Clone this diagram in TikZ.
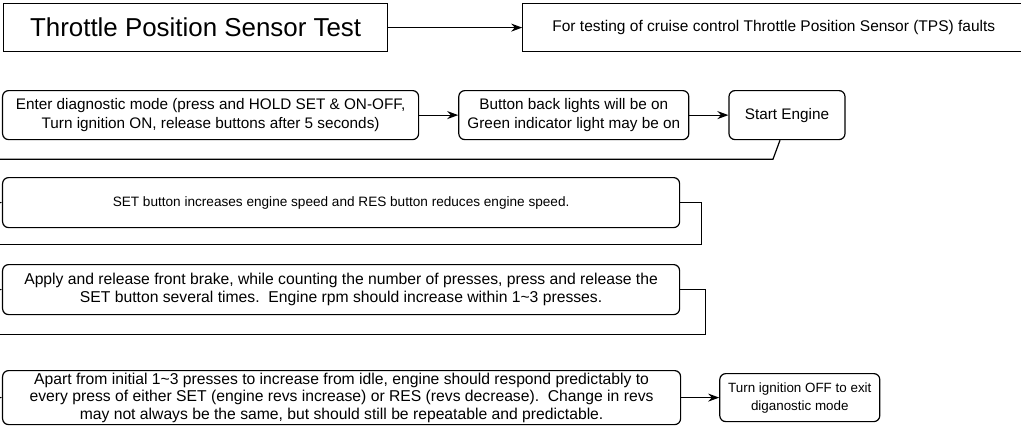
\documentclass[tikz,border=0pt]{standalone}
\usepackage{fontspec}
\setmainfont{Liberation Sans}
\usetikzlibrary{arrows.meta,positioning}
\tikzset{
  titlebox/.style={
    draw,
    line width=1.2pt,
    anchor=north west,
    minimum width=384pt,
    minimum height=48pt,
    inner sep=0pt,
    font=\fontsize{25.9}{30}\selectfont
  },
  notebox/.style={
    draw,
    line width=1.2pt,
    minimum height=49pt,
    inner sep=0pt,
    align=center,
    font=\fontsize{15.3}{19}\selectfont
  },
  stepbox/.style={
    notebox,
    rounded corners=6pt
  },
  longstep/.style={
    stepbox,
    anchor=north west,
    minimum width=677pt,
    font=\fontsize{15.7}{17.6}\selectfont
  },
  arrow/.style={-{Stealth[length=11pt,width=8pt]}, line width=1.2pt},
  feed/.style={-{Stealth[length=11pt,width=8pt]}, line width=1.2pt},
}

\begin{document}
\begin{tikzpicture}[x=1pt,y=-1pt]
\useasboundingbox (0,0) rectangle (1021,432);
\coordinate (leftrail) at (-20,0);

% Title row
\node[titlebox] (title) at (3,3) {Throttle Position Sensor Test};
\node[notebox, font=\fontsize{15.5}{19}\selectfont, minimum width=502pt, minimum height=48pt, right=134pt of title] (purpose) {For testing of cruise control Throttle Position Sensor (TPS) faults};
\draw[arrow] (title) -- (purpose);

% Entering diagnostic mode
\node[stepbox, anchor=north west, minimum width=416pt] (diag) at (2,90) {Enter diagnostic mode (press and HOLD SET \& ON-OFF,\\Turn ignition ON, release buttons after 5 seconds)};
\node[stepbox, minimum width=230pt, right=39pt of diag] (lights) {Button back lights will be on\\Green indicator light may be on};
\node[stepbox, minimum width=116pt, right=39pt of lights] (start) {Start Engine};
\draw[arrow] (diag) -- (lights);
\draw[arrow] (lights) -- (start);

% Button checks
\node[longstep, font=\fontsize{13.6}{17.5}\selectfont, minimum height=50pt] (setres) at (2,177) {SET button increases engine speed and RES button reduces engine speed.};
\node[longstep, minimum height=50pt] (presses) at (2,264) {Apply and release front brake, while counting the number of presses, press and release the\\SET button several times.\ \ Engine rpm should increase within 1\textasciitilde3 presses.};
\node[longstep, minimum width=678pt, minimum height=54pt] (respond) at (2,370) {Apart from initial 1\textasciitilde3 presses to increase from idle, engine should respond predictably to\\every press of either SET (engine revs increase) or RES (revs decrease).\ \ Change in revs\\may not always be the same, but should still be repeatable and predictable.};
\node[stepbox, font=\fontsize{13.4}{18}\selectfont, minimum width=160pt, minimum height=48pt, right=38pt of respond] (exit) {Turn ignition OFF to exit\\diganostic mode};

\draw[feed] ([xshift=-7pt]start.south) -- ++(-7,19) coordinate (r1) -- (r1 -| leftrail) |- (setres.west);
\draw[feed] (setres.east) -- ++(21,0) -- ++(0,42) coordinate (r2) -- (r2 -| leftrail) |- (presses.west);
\draw[feed] (presses.east) -- ++(25,0) -- ++(0,45) coordinate (r3) -- (r3 -| leftrail) |- (respond.west);
\draw[arrow] (respond) -- (exit);

\end{tikzpicture}
\end{document}
